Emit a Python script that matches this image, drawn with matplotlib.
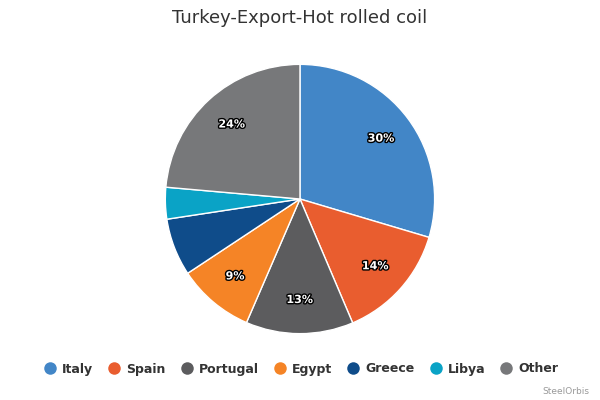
import matplotlib
matplotlib.use("Agg")
import matplotlib.pyplot as plt
import matplotlib.patheffects as pe

countries = ["Italy", "Spain", "Portugal", "Egypt", "Greece", "Libya", "Other"]
shares = [29.6, 14.0, 12.9, 9.2, 6.9, 3.8, 23.6]
colors = ["#4286c7", "#e95d2f", "#5c5c5e", "#f58426", "#0f4c8a", "#0aa3c6", "#77787a"]
shown = [True, True, True, True, False, False, True]

fig = plt.figure(figsize=(6, 4), dpi=100)
ax = fig.add_axes([0.2733, 0.1625, 0.4533, 0.68])

def fmt(p, it=iter(shown)):
    return f"{p:.0f}%" if next(it) else ""

wedges, texts, autotexts = ax.pie(
    shares, colors=colors, startangle=90, counterclock=False,
    autopct=fmt, pctdistance=0.75,
    wedgeprops=dict(edgecolor="white", linewidth=1),
)
for t in autotexts:
    t.set_color("white")
    t.set_fontsize(8)
    t.set_fontweight("bold")
    t.set_path_effects([pe.withStroke(linewidth=2, foreground="black")])
ax.set_xlim(-1.01, 1.01)
ax.set_ylim(-1.01, 1.01)
ax.set_aspect("equal")

fig.text(0.5, 1 - 18 / 400, "Turkey-Export-Hot rolled coil", ha="center", va="center",
         fontsize=13, color="#333333")

# round legend markers
handles = [plt.Line2D([], [], marker="o", linestyle="", markersize=9,
                      markerfacecolor=c, markeredgecolor="none") for c in colors]
fig.legend(handles, countries, loc="center", bbox_to_anchor=(0.502, 1 - 369 / 400),
           ncol=7, frameon=False, handlelength=0.9, handletextpad=0.5,
           columnspacing=1.25, prop=dict(size=9, weight="bold"), labelcolor="#333333")

fig.text(589 / 600, 1 - 392 / 400, "SteelOrbis", ha="right", va="center",
         fontsize=6.5, color="#999999")

fig.savefig("out.png", dpi=100)
